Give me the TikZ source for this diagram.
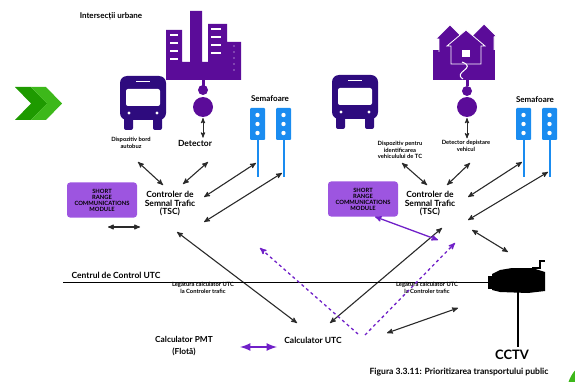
\documentclass[tikz,border=0pt]{standalone}
\usepackage{fontspec}
\setmainfont{Lato}
\usepackage{tikz}
\usetikzlibrary{arrows}

\definecolor{busnavy}{HTML}{2E0B7E}
\definecolor{bldpurple}{HTML}{5B0C99}
\definecolor{boxpurple}{HTML}{9D55E0}
\definecolor{lightblue}{HTML}{1A8CF0}
\definecolor{linkpurple}{HTML}{7020C8}
\definecolor{chevgreen}{HTML}{1E9A00}
\definecolor{chevlight}{HTML}{3DB81A}
\definecolor{wire}{HTML}{2A2A2A}

\tikzset{
  lbl/.style={font=\bfseries\fontsize{8.5}{8.5}\selectfont, align=center, inner sep=2pt},
  tinylbl/.style={font=\bfseries\fontsize{5.8}{6.5}\selectfont, align=center, inner sep=2pt},
  wirelink/.style={<->, draw=wire, line width=1.1pt},
  srcbox/.style={fill=boxpurple, rounded corners=3pt, minimum width=70pt, minimum height=35pt,
    align=center, inner sep=1pt, font=\bfseries\fontsize{5.8}{6}\selectfont},
}

\begin{document}
\begin{tikzpicture}[x=1pt, y=-1pt, >=stealth']
\useasboundingbox (0,0) rectangle (575,382);

% chevrons
\fill[chevgreen] (15,87) -- (31,87) -- (47,103.5) -- (31,120) -- (15,120) -- (31,103.5) -- cycle;
\fill[chevlight] (31,87) -- (46,87) -- (62,103.5) -- (46,120) -- (31,120) -- (47,103.5) -- cycle;

\node[lbl, font=\bfseries\fontsize{8}{8}\selectfont] (urbane) at (111,16) {Intersecții urbane};

% city block with detector
\fill[bldpurple] (166,30) rectangle (182,80) (190,11) rectangle (202,80) (208,24) rectangle (227,80)
  (227,42) rectangle (241,80) (166,62) rectangle (241,80);
\foreach \y in {34,42,50,58} \fill[white] (170,\y) rectangle (178,\y+2);
\foreach \y in {28,36,44,52} \fill[white] (211,\y) rectangle (221,\y+2);
\foreach \y in {46,52,...,70} \fill[white] (234,\y) circle (0.6);
\fill[bldpurple] (201.5,80) rectangle (204.5,86);
\fill[bldpurple] (203,90) circle (5) (203,107) circle (10);

% houses with detector
\fill[bldpurple] (433,50) rectangle (495,80);
\filldraw[bldpurple, draw=white, line width=0.7pt] (439,52) -- (439,39) -- (436,39) -- (450,25) -- (464,39) -- (461,39) -- (461,52);
\filldraw[bldpurple, draw=white, line width=0.7pt] (474,50) -- (474,37) -- (471,37) -- (484,24) -- (496,36) -- (494,37) -- (494,50);
\filldraw[bldpurple, draw=white, line width=0.8pt] (451,64) -- (451,46) -- (447,46) -- (466,30) -- (485,46) -- (481,46) -- (481,64) -- cycle;
\fill[white] (462,50) rectangle (470,57);
\draw[white, line width=1pt] (463,79) .. controls (452,72) and (478,68) .. (462,62);
\fill[bldpurple] (465.5,80) rectangle (468.5,86);
\fill[bldpurple] (467,91) circle (5) (467,107) circle (10);

% buses
\foreach \bx/\by in {120/76, 332/75} {
  \begin{scope}[shift={(\bx,\by)}]
    \fill[busnavy, rounded corners=7pt] (0,0) rectangle (46,44);
    \fill[busnavy, rounded corners=2pt] (4,38) rectangle (13,54) (33,38) rectangle (42,54);
    \fill[white, rounded corners=2pt] (6,13) rectangle (40,30);
    \draw[white, line width=1pt] (16,6) -- (30,6);
    \fill[white] (9,37) circle (1.6) (37,37) circle (1.6);
  \end{scope}
}

% traffic lights
\node[lbl, font=\bfseries\fontsize{8}{8}\selectfont] (semL) at (270,99) {Semafoare};
\node[lbl, font=\bfseries\fontsize{8}{8}\selectfont] (semR) at (535,100) {Semafoare};
\foreach \x in {250,276,516,542} {
  \fill[lightblue, rounded corners=1pt] (\x,108) rectangle ++(15,32);
  \foreach \y in {115,124,133} \fill[white] (\x+7.5,\y) circle (2.2);
  \draw[lightblue, line width=1.3pt] (\x+8,140) -- (\x+8,177);
}

\node[tinylbl] (busL) at (131,143) {Dispozitiv bord\\autobuz};
\node[lbl] (detL) at (195,143) {Detector};
\node[tinylbl] (busR) at (400,150) {Dispozitiv pentru\\identificarea\\vehiculului de TC};
\node[tinylbl] (detR) at (466,146) {Detector depistare\\vehicul};

\node[lbl] (tscL) at (170,204) {Controler de\\Semnal Trafic\\(TSC)};
\node[lbl] (tscR) at (430,204) {Controler de\\Semnal Trafic\\(TSC)};
\node[srcbox] (srcL) at (102,200) {SHORT\\RANGE\\COMMUNICATIONS\\MODULE};
\node[srcbox] (srcR) at (363,199) {SHORT\\RANGE\\COMMUNICATIONS\\MODULE};

\node[lbl, font=\bfseries\fontsize{8.5}{9}\selectfont] (centrul) at (116,275) {Centrul de Control UTC};
\node[tinylbl] (legL) at (203,288) {Legătura calculator UTC\\la Controler trafic};
\node[tinylbl] (legR) at (427,288) {Legătura calculator UTC\\la Controler trafic};
\node[lbl, font=\bfseries\fontsize{8.3}{12}\selectfont] (pmt) at (184,346) {Calculator PMT\\(Flotă)};
\node[lbl] (utc) at (313,340) {Calculator UTC};
\node[font=\bfseries\fontsize{13}{13}\selectfont] (cctv) at (512,355) {CCTV};
\node[font=\bfseries\fontsize{8.6}{9}\selectfont] (caption) at (459,372) {Figura 3.3.11: Prioritizarea transportului public};

% camera on its pole
\fill[black] (492,274) -- (500,270) -- (512,268) -- (532,268) -- (545,272) -- (545,291) -- (528,293) -- (500,292) -- (492,290) -- cycle;
\fill[black] (488,276) rectangle (494,289);
\draw[black, line width=2pt] (532,268) -- (540,268) -- (540,261) -- (545,261);
\draw[black, line width=2.2pt] (518,292) -- (518,347);
\coordinate (camW) at (488,282);

% link ends
\coordinate (busLend) at (138,162);  \coordinate (tscLa) at (163,185);
\coordinate (detLend) at (208,162);  \coordinate (tscLb) at (183,184);
\coordinate (poleL1) at (256,163);   \coordinate (tscLc) at (204,197);
\coordinate (poleL2) at (282,173);   \coordinate (tscLd) at (204,222);
\coordinate (srcLa) at (108,227);    \coordinate (srcLb) at (140,227);
\coordinate (tscLe) at (177,232);    \coordinate (utcA) at (297,323);
\coordinate (busRend) at (402,163);  \coordinate (tscRa) at (427,185);
\coordinate (detRend) at (470,163);  \coordinate (tscRb) at (447,185);
\coordinate (poleR1) at (522,162);   \coordinate (tscRc) at (468,197);
\coordinate (poleR2) at (548,172);   \coordinate (tscRd) at (468,220);
\coordinate (tscRe) at (472,230);    \coordinate (camA) at (508,252);
\coordinate (tscRf) at (438,240);    \coordinate (tscRg) at (442,228);
\coordinate (utcB) at (330,323);     \coordinate (utcC) at (387,333);
\coordinate (camB) at (458,308);
\coordinate (vL) at (358,334);       \coordinate (dashL) at (260,248);
\coordinate (vR) at (365,335);       \coordinate (dashR) at (455,243);
\coordinate (pmtE) at (240,347);     \coordinate (utcW) at (277,347);
\coordinate (lineW) at (63,282);

\draw[<->, wire, line width=0.9pt] (203,118) -- (detL.north -| 203,0);
\draw[<->, wire, line width=0.9pt] (467,118) -- (detR.north -| 467,0);

\draw[wirelink] (busLend) -- (tscLa);
\draw[wirelink] (detLend) -- (tscLb);
\draw[wirelink] (poleL1) -- (tscLc);
\draw[wirelink] (poleL2) -- (tscLd);
\draw[wirelink] (srcLa) -- (srcLb);
\draw[wirelink] (tscLe) -- (utcA);
\draw[wirelink] (busRend) -- (tscRa);
\draw[wirelink] (detRend) -- (tscRb);
\draw[wirelink] (poleR1) -- (tscRc);
\draw[wirelink] (poleR2) -- (tscRd);
\draw[wirelink] (tscRe) -- (camA);
\draw[wirelink] (utcB) -- (tscRg);
\draw[wirelink] (utcC) -- (camB);

\draw[black, line width=1pt] (lineW) -- (camW);

\draw[<->, linkpurple, line width=1.3pt] ([xshift=12pt]srcR.south) -- (tscRf);
\draw[->, linkpurple, line width=1.3pt, dashed] (vL) -- (dashL);
\draw[->, linkpurple, line width=1.3pt, dashed] (vR) -- (dashR);
\draw[<->, linkpurple, line width=2.5pt, >=latex] (pmtE) -- (utcW);

\begin{scope}
  \clip (0,0) rectangle (575,382);
  \fill[chevlight] (600,392) circle (33);
\end{scope}
\end{tikzpicture}
\end{document}
